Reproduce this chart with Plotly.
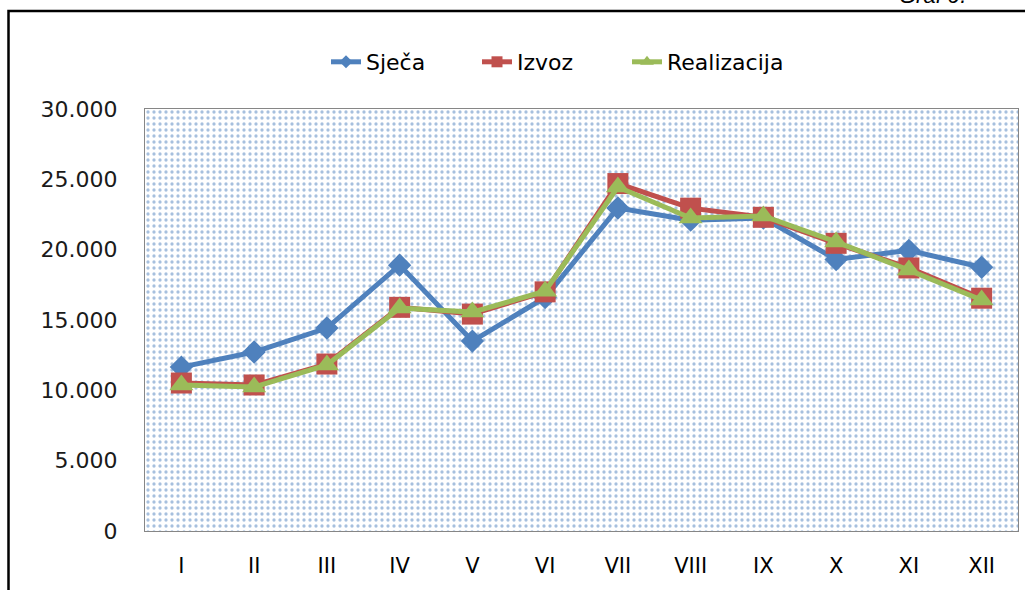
import plotly.graph_objects as go

months = ["I", "II", "III", "IV", "V", "VI", "VII", "VIII", "IX", "X", "XI", "XII"]
sjeca = [11650, 12720, 14430, 18900, 13500, 16600, 22960, 22100, 22250, 19300, 19950, 18750]
izvoz = [10520, 10380, 11870, 15900, 15420, 17000, 24700, 22950, 22300, 20450, 18700, 16550]
realizacija = [10380, 10230, 11800, 15850, 15560, 17050, 24450, 22250, 22400, 20550, 18550, 16420]
y_ticks = [0, 5000, 10000, 15000, 20000, 25000, 30000]
series = [
    ("Sječa", sjeca, "#4F81BD", "diamond", 18, 10),
    ("Izvoz", izvoz, "#C0504D", "square", 21, 11),
    ("Realizacija", realizacija, "#9BBB59", "triangle-up", 21, 12),
]

BLUE = "#4F81BD"
FONT = "DejaVu Sans"

fig = go.Figure()

# dotted plot-area background (decorative) on the base axes, drawn beneath the data axes
fig.add_trace(go.Scatter(
    x=[0, 1, 1, 0, 0], y=[0, 0, 1, 1, 0], xaxis="x", yaxis="y",
    mode="none", fill="toself", fillcolor="white",
    fillpattern=dict(shape=".", fgcolor=BLUE, bgcolor="white", size=6, solidity=0.24),
    showlegend=False, hoverinfo="skip"))

for name, vals, color, sym, msize, lsize in series:
    fig.add_trace(go.Scatter(x=months, y=vals, name=name, mode="lines+markers",
                             xaxis="x2", yaxis="y2", showlegend=False,
                             line=dict(color=color, width=5),
                             marker=dict(symbol=sym, size=msize, color=color)))
legend_ids = ["legend", "legend2", "legend3"]
for (name, vals, color, sym, msize, lsize), lg in zip(series, legend_ids):
    # legend entries (smaller legend markers, like the original)
    fig.add_trace(go.Scatter(x=[None], y=[None], name=name, mode="lines+markers",
                             xaxis="x2", yaxis="y2", legend=lg,
                             line=dict(color=color, width=5),
                             marker=dict(symbol=sym, size=lsize, color=color)))

L, R, T, B = 145, 7, 109, 59
W, H = 1025, 590
pw, ph = W - L - R, H - T - B

def px_x(p):
    return (p - L) / pw

def px_y(p):
    return (H - B - p) / ph

def legend_at(px_left):
    return dict(orientation="h", x=px_x(px_left), xanchor="left", y=px_y(62), yanchor="middle",
                font=dict(size=22), bgcolor="rgba(0,0,0,0)")

fig.update_layout(
    width=W, height=H,
    margin=dict(l=L, r=R, t=T, b=B),
    paper_bgcolor="white", plot_bgcolor="white",
    separators=",.",
    font=dict(family=FONT, size=21, color="black"),
    xaxis=dict(range=[0, 1], visible=False, fixedrange=True),
    yaxis=dict(range=[0, 1], visible=False, fixedrange=True),
    xaxis2=dict(type="category", overlaying="x", side="bottom",
                range=[-0.5, len(months) - 0.5],
                showgrid=False, zeroline=False, ticks="",
                showline=True, linecolor="#868686", linewidth=1, mirror=True,
                ticklabelstandoff=16, tickfont=dict(size=21)),
    yaxis2=dict(range=[0, 30000], overlaying="y", side="left",
                tickvals=y_ticks, tickformat=",.0f",
                showgrid=False, zeroline=False, ticks="",
                showline=True, linecolor="#868686", linewidth=1, mirror=True,
                ticklabelstandoff=22, tickfont=dict(size=22, color="#1a1a1a")),
    legend=legend_at(326),
    legend2=legend_at(477),
    legend3=legend_at(627),
    shapes=[dict(type="path", xref="paper", yref="paper",
                 path=f"M {px_x(8.5)} {px_y(600)} L {px_x(8.5)} {px_y(11)} L {px_x(1030)} {px_y(11)}",
                 line=dict(color="black", width=2.5))],
    annotations=[dict(text="<i>Graf 9.</i>", xref="paper", yref="paper",
                      x=px_x(968), y=px_y(10), xanchor="right", yanchor="bottom",
                      showarrow=False, font=dict(family="Liberation Sans", size=22))],
)

fig.write_html(
    "out.html",
    config={"displayModeBar": False},
    post_script="document.body.style.margin='0';document.body.style.overflow='hidden';",
)
